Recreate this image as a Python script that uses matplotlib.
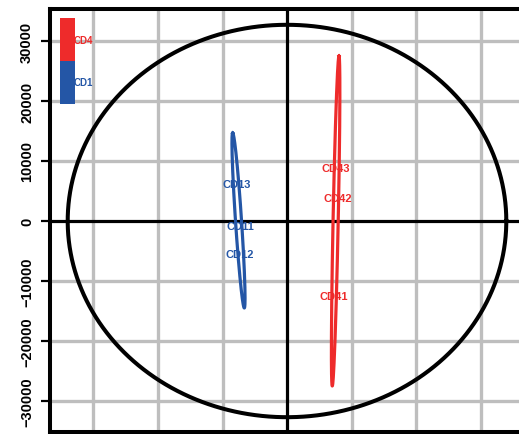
import numpy as np
import matplotlib
matplotlib.use("Agg")
import matplotlib.pyplot as plt
from matplotlib.patches import Rectangle

plt.rcParams['font.family'] = ['Liberation Sans', 'DejaVu Sans']

# ---- data ----
sample_labels = ["CD11", "CD12", "CD13", "CD41", "CD42", "CD43"]
sample_groups = ["CD1", "CD1", "CD1", "CD4", "CD4", "CD4"]
pc1 = [-7290, -7290, -7750, 7290, 7900, 7600]
pc2 = [-830, -5500, 6170, -12500, 3830, 8830]

groups = ["CD1", "CD4"]
group_colors = {"CD1": "#2456A6", "CD4": "#EE2B2B"}
# group ellipse: end points of major axis (top, bottom) and horizontal half width
ell_top_x = {"CD1": -8420, "CD4": 8060}
ell_top_y = {"CD1": 14670, "CD4": 27500}
ell_bot_x = {"CD1": -6620, "CD4": 7020}
ell_bot_y = {"CD1": -14500, "CD4": -27500}
ell_halfw = {"CD1": 470, "CD4": 400}

# Hotelling ellipse semi-axes
hot_a = 34000
hot_b = 32700

yticks = [-30000, -20000, -10000, 0, 10000, 20000, 30000]
xticks = [-30000, -20000, -10000, 0, 10000, 20000, 30000]

W, H = 519, 435
fig = plt.figure(figsize=(W / 100, H / 100), dpi=100)
ax = fig.add_axes([50 / W, 2 / H, (530 - 50) / W, (433 - 10) / H])
ax.set_xlim(-36744, 37674)
ax.set_ylim(-35167, 35333)

# grid
for xt in xticks:
    if xt != 0:
        ax.axvline(xt, color="#BEBEBE", lw=2.4, zorder=0)
for yt in yticks:
    if yt != 0:
        ax.axhline(yt, color="#BEBEBE", lw=2.4, zorder=0)
ax.axvline(0, color="black", lw=2.3, zorder=1)
ax.axhline(0, color="black", lw=2.3, zorder=1)

# Hotelling ellipse
t = np.linspace(0, 2 * np.pi, 400)
ax.plot(hot_a * np.cos(t), hot_b * np.sin(t), color="black", lw=2.9, zorder=3)

# sample labels
for lab, g, x, y in zip(sample_labels, sample_groups, pc1, pc2):
    ax.text(x, y, lab, color=group_colors[g], fontsize=8, fontweight="bold",
            ha="center", va="center", zorder=2)

# group ellipses
for g in groups:
    cx = (ell_top_x[g] + ell_bot_x[g]) / 2
    cy = (ell_top_y[g] + ell_bot_y[g]) / 2
    ax_vec = ((ell_top_x[g] - ell_bot_x[g]) / 2, (ell_top_y[g] - ell_bot_y[g]) / 2)
    ex = cx + ax_vec[0] * np.cos(t) + ell_halfw[g] * np.sin(t)
    ey = cy + ax_vec[1] * np.cos(t)
    ax.plot(ex, ey, color=group_colors[g], lw=2.3, zorder=4)

# legend color bar
ax.add_patch(Rectangle((0.021, 0.877), 0.031, 0.101, transform=ax.transAxes,
                       color=group_colors["CD4"], zorder=5, lw=0))
ax.add_patch(Rectangle((0.021, 0.776), 0.031, 0.101, transform=ax.transAxes,
                       color=group_colors["CD1"], zorder=5, lw=0))
ax.text(0.049, 0.927, "CD4", transform=ax.transAxes, color=group_colors["CD4"],
        fontsize=7, fontweight="bold", ha="left", va="center", zorder=6)
ax.text(0.049, 0.827, "CD1", transform=ax.transAxes, color=group_colors["CD1"],
        fontsize=7, fontweight="bold", ha="left", va="center", zorder=6)

# ticks / spines
ax.set_yticks(yticks)
ax.set_yticklabels([f"{v}".replace("-", "\u2212") for v in yticks],
                   rotation=90, va="center", fontsize=10.5, fontweight="bold")
ax.set_xticks(xticks)
ax.set_xticklabels([])
ax.tick_params(axis="y", length=6.5, width=1.6, pad=5)
ax.tick_params(axis="x", length=0)
for s in ax.spines.values():
    s.set_linewidth(2.9)
    s.set_color("black")

fig.savefig("out.png", dpi=100)
